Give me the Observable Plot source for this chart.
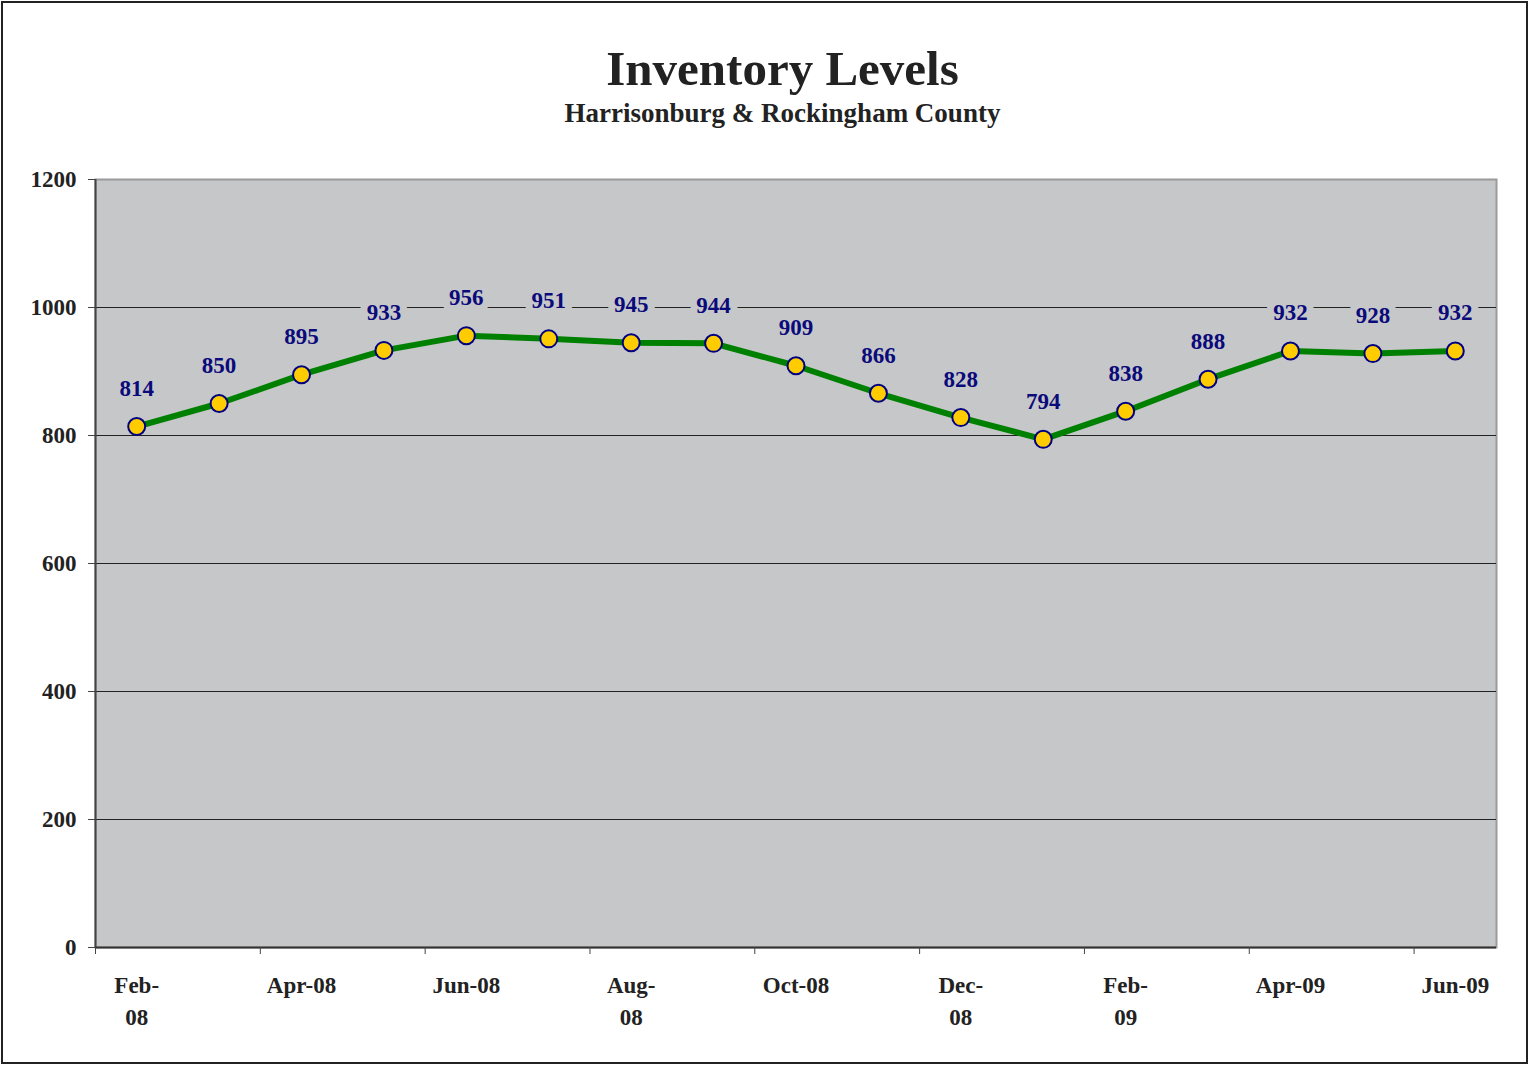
<!DOCTYPE html>
<html>
<head>
<meta charset="utf-8">
<script src="https://cdn.jsdelivr.net/npm/d3@7"></script>
<script src="https://cdn.jsdelivr.net/npm/@observablehq/plot@0.6"></script>
<style>
  html, body { margin: 0; padding: 0; background: #fff; }
  body { width: 1529px; height: 1065px; position: relative; overflow: hidden; font-family: "Liberation Serif", "DejaVu Serif", serif; }
  #frame { position: absolute; left: 1px; top: 1px; width: 1527px; height: 1063px; box-sizing: border-box; border: 2px solid #222; }
  #title { position: absolute; left: 0; width: 1565px; top: 40px; text-align: center; font-size: 49px; font-weight: bold; color: #222; }
  #subtitle { position: absolute; left: 0; width: 1565px; top: 98px; text-align: center; font-size: 27px; font-weight: bold; color: #222; }
  #chart { position: absolute; left: 0; top: 160px; }
</style>
</head>
<body>
<div id="frame"></div>
<div id="title">Inventory Levels</div>
<div id="subtitle">Harrisonburg &amp; Rockingham County</div>
<div id="chart"></div>
<script>
const months = ["Feb-08","Mar-08","Apr-08","May-08","Jun-08","Jul-08","Aug-08","Sep-08","Oct-08","Nov-08","Dec-08","Jan-09","Feb-09","Mar-09","Apr-09","May-09","Jun-09"];
const inventory = [814, 850, 895, 933, 956, 951, 945, 944, 909, 866, 828, 794, 838, 888, 932, 928, 932];
const xTickLabels = ["Feb-\n08", "Apr-08", "Jun-08", "Aug-\n08", "Oct-08", "Dec-\n08", "Feb-\n09", "Apr-09", "Jun-09"];
const yTicks = [0, 200, 400, 600, 800, 1000, 1200];
const gridValues = [200, 400, 600, 800, 1000];

const data = months.map((m, i) => ({i, month: m, value: inventory[i]}));
const labelData = xTickLabels.map((t, k) => ({i: k * 2, label: t}));
const boundaries = xTickLabels.map((t, k) => k * 2 - 0.5);

const font = "'Liberation Serif', 'DejaVu Serif', serif";

const chart = Plot.plot({
  width: 1529,
  height: 880,
  marginLeft: 95,
  marginRight: 33,
  marginTop: 19,
  marginBottom: 93,
  style: {fontFamily: font, fontSize: "23px", fontWeight: "bold", color: "#222", background: "transparent"},
  x: {type: "linear", domain: [-0.5, months.length - 0.5], axis: null, label: null},
  y: {domain: [0, 1200], axis: null, label: null},
  marks: [
    Plot.frame({fill: "#c6c7c9", stroke: "#9a9a9a", strokeWidth: 2}),
    Plot.ruleY(gridValues, {stroke: "#222", strokeWidth: 1}),
    Plot.ruleX([-0.5], {stroke: "#444", strokeWidth: 2}),
    Plot.ruleY([0], {stroke: "#333", strokeWidth: 2}),
    Plot.axisY({ticks: yTicks, label: null, tickSize: 7, tickPadding: 12, tickFormat: d => String(d), stroke: "#444", fill: "#222"}),
    Plot.axisX({ticks: boundaries, label: null, tickSize: 7, tickFormat: () => "", stroke: "#444"}),
    Plot.text(labelData, {x: "i", y: () => 0, text: "label", dy: 23, lineAnchor: "top", lineHeight: 1.38, fill: "#222"}),
    Plot.text(data, {x: "i", y: "value", text: d => String(d.value), dy: -38, fill: "#0a0a7a", stroke: "#c6c7c9", strokeWidth: 14, strokeLinejoin: "round"}),
    Plot.line(data, {x: "i", y: "value", stroke: "#008000", strokeWidth: 6}),
    Plot.dot(data, {x: "i", y: "value", r: 8.5, fill: "#ffcc00", stroke: "#000080", strokeWidth: 2})
  ]
});
document.getElementById("chart").appendChild(chart);
</script>
</body>
</html>
